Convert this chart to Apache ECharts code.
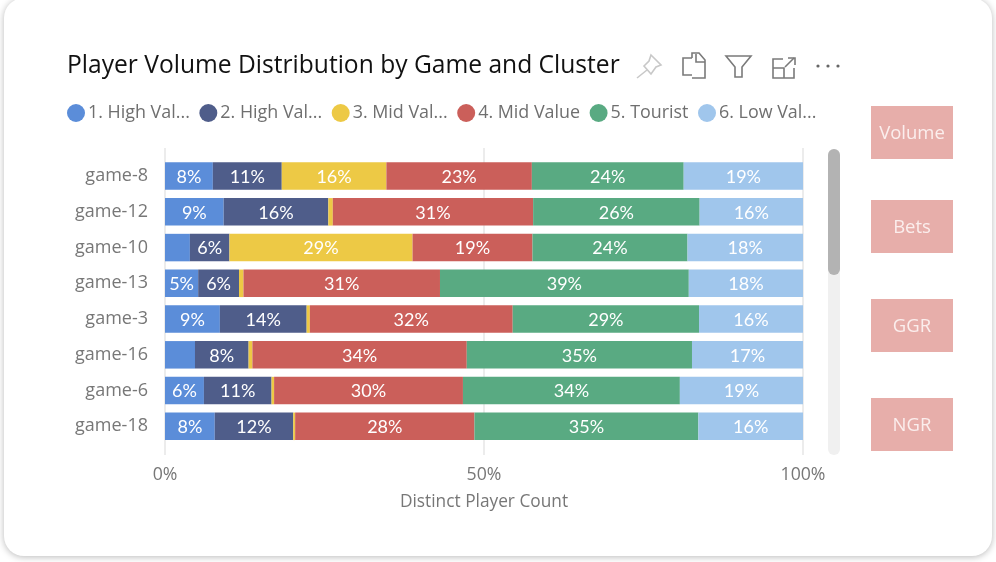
<!DOCTYPE html>
<html><head><meta charset="utf-8">
<style>html,body{margin:0;padding:0;background:#fff}#c{width:996px;height:562px}</style>
<script src="https://cdn.jsdelivr.net/npm/echarts@6/dist/echarts.min.js"></script></head>
<body><div id="c"></div>
<script>
const titleText = 'Player Volume Distribution by Game and Cluster';
const axisName = 'Distinct Player Count';
const games = ['game-8','game-12','game-10','game-13','game-3','game-16','game-6','game-18'];
const highValue1 = [7.5, 9.2, 3.9, 5.2, 8.6, 4.7, 6.1, 7.8];
const highValue2 = [10.8, 16.4, 6.2, 6.4, 13.6, 8.4, 10.6, 12.3];
const midValue3  = [16.4, 0.7, 28.7, 0.7, 0.5, 0.6, 0.4, 0.3];
const midValue4  = [22.8, 31.4, 18.8, 30.8, 31.8, 33.6, 29.6, 28.1];
const tourist5   = [23.8, 26.1, 24.3, 39.0, 29.2, 35.3, 34.0, 35.1];
const lowValue6  = [18.7, 16.2, 18.1, 17.9, 16.3, 17.4, 19.3, 16.4];
const seriesNames = ['1. High Val...','2. High Val...','3. Mid Val...','4. Mid Value','5. Tourist','6. Low Val...'];
const seriesColors = ['#5b8dd9','#4f5d8a','#edc945','#cb5f5a','#59aa82','#a0c6ec'];
const seriesValues = [highValue1, highValue2, midValue3, midValue4, tourist5, lowValue6];
const sideButtons = ['Volume','Bets','GGR','NGR'];
const sideTops = [106, 200, 299, 398];
const font = '"Open Sans"';

const chart = echarts.init(document.getElementById('c'), null, {renderer:'canvas'});
const icon = (points, stroke, closed) => ({type: closed ? 'polygon' : 'polyline', z: 5,
  shape:{points}, style:{fill:'none', stroke, lineWidth:1.6}});
const dark = '#7a7a7a', light = '#c8c8c8';
const graphics = [
  {type:'rect', z:-10, shape:{x:4,y:-2,width:988,height:558,r:20},
   style:{fill:'#fff', shadowBlur:7, shadowColor:'rgba(0,0,0,0.28)', shadowOffsetY:1}},
  // scroll bar
  {type:'rect', z:2, shape:{x:828,y:149,width:12,height:306,r:6}, style:{fill:'#f0f0f0'}},
  {type:'rect', z:3, shape:{x:828,y:149,width:12,height:126,r:6}, style:{fill:'#b3b3b3'}},
  // pin
  icon([[651,55],[661,65],[656,67],[651,74],[644,66],[649,61]], light, true),
  icon([[637,78],[647,70]], light),
  // copy
  icon([[692,58],[692,53],[699,53],[705,60],[705,78],[692,78]], dark),
  icon([[692,58],[683,58],[683,75],[692,75]], dark),
  icon([[696,54],[696,62],[705,62]], dark),
  // filter
  icon([[726,56],[751,56],[742,67],[742,77],[735,77],[735,67]], dark, true),
  // focus
  icon([[783,59],[773,59],[773,78],[794,78],[794,68]], dark),
  icon([[773,68],[784,68],[784,78]], dark),
  icon([[785,67],[794,58]], dark),
  icon([[788,58],[795,58],[795,65]], dark),
  // more dots
  ...[818,828,838].map(x => ({type:'circle', z:5, shape:{cx:x,cy:66,r:1.6}, style:{fill:'#666'}})),
  // side buttons
  ...sideButtons.map((t,i)=>({type:'rect', z:4, shape:{x:871,y:sideTops[i],width:82,height:53},
    style:{fill:'#e7aeaa'}})),
  ...sideButtons.map((t,i)=>({type:'text', z:5, x:912, y:sideTops[i]+28,
    style:{text:t, fill:'#fbeeed', font:'18.5px '+font, align:'center', verticalAlign:'middle'}}))
];

chart.setOption({
  animation:false,
  backgroundColor:'#fff',
  title:{text:titleText, left:67, top:53, padding:0,
    textStyle:{fontFamily:font, fontSize:24.6, fontWeight:'normal', color:'#111'}},
  legend:{left:67, top:104, padding:0, itemWidth:18, itemHeight:18, itemGap:9.5, icon:'circle',
    data:seriesNames,
    textStyle:{fontFamily:font, fontSize:17.9, color:'#6f6f6f', padding:[0,0,0,-2]}},
  graphic:graphics,
  grid:[
    {left:165, top:158.2, width:638, height:286},
    {left:165, top:148, width:638, height:307}
  ],
  xAxis:[
    {gridIndex:0, type:'value', min:0, max:100, show:false},
    {gridIndex:1, type:'value', min:0, max:100, interval:50,
      axisLine:{show:false}, axisTick:{show:false},
      splitLine:{show:true, lineStyle:{color:'#e6e6e6', width:1.5}},
      axisLabel:{formatter:'{value}%', fontFamily:font, fontSize:17.7, color:'#777', margin:11},
      name:axisName, nameLocation:'middle', nameGap:39,
      nameTextStyle:{fontFamily:font, fontSize:17.3, color:'#777'}}
  ],
  yAxis:[
    {gridIndex:0, type:'category', data:games, inverse:true,
      axisLine:{show:false}, axisTick:{show:false}, splitLine:{show:false},
      axisLabel:{fontFamily:font, fontSize:18, color:'#777', margin:17, padding:[2,0,0,0]}},
    {gridIndex:1, type:'category', data:[], show:false}
  ],
  series:seriesNames.map((name,i)=>({
    name, type:'bar', stack:'total', xAxisIndex:0, yAxisIndex:0, z:3,
    barWidth:27.5, data:seriesValues[i],
    itemStyle:{color:seriesColors[i]},
    label:{show:true, position:'inside', offset:[0,1], color:'#fff', fontFamily:'Lato', fontSize:18,
      formatter:p => p.value < 5 ? '' : Math.round(p.value)+'%'}
  }))
});
</script></body></html>
